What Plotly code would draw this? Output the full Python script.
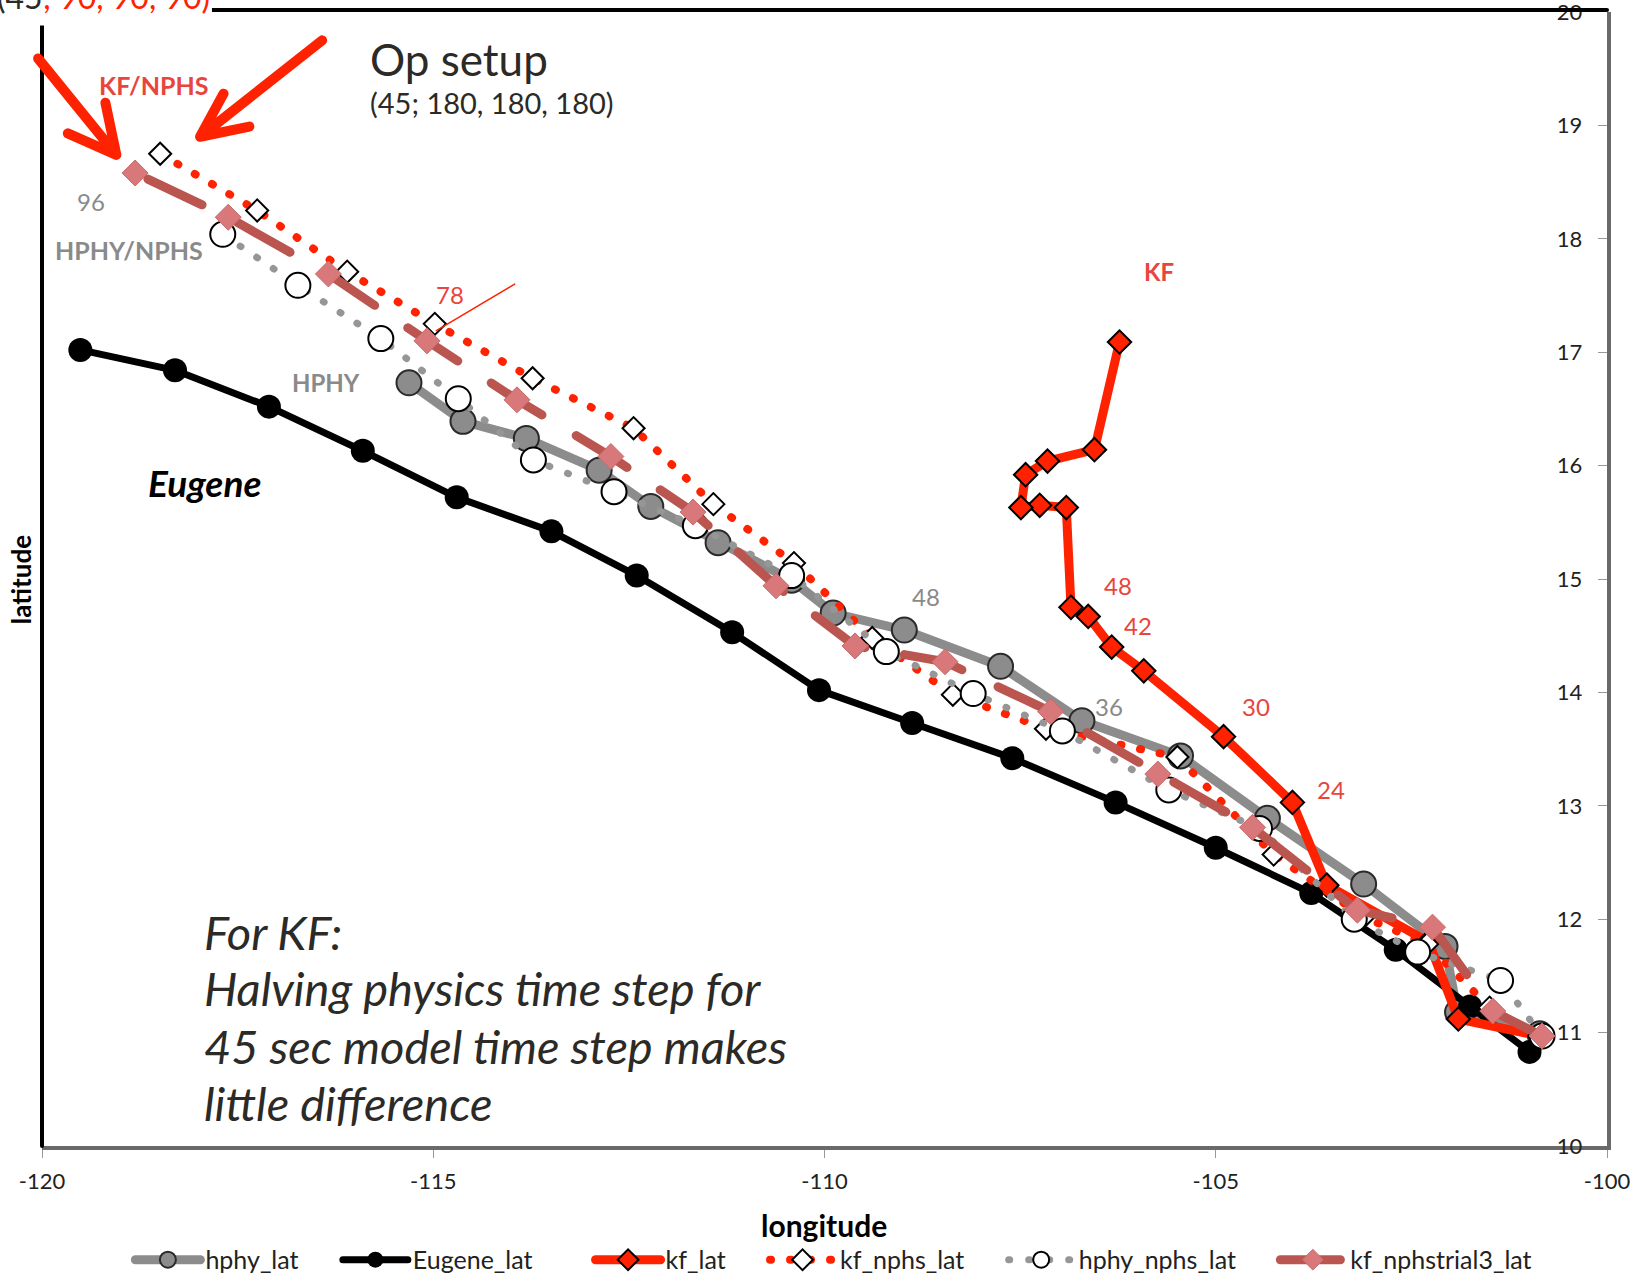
import plotly.graph_objects as go

# ---------------- data (0h -> 96h, every 6 h) ----------------
hphy_lon = [-100.86, -101.91, -102.07, -103.11, -104.34, -105.45, -106.71, -107.75, -108.98,
            -109.89, -110.42, -111.36, -112.22, -112.88, -113.81, -114.62, -115.31]
hphy_lat = [10.99, 11.18, 11.76, 12.31, 12.89, 13.44, 13.75, 14.23, 14.55,
            14.70, 14.99, 15.32, 15.64, 15.96, 16.24, 16.39, 16.73]

eugene_lon = [-100.99, -101.75, -102.70, -103.78, -105.00, -106.28, -107.60, -108.88, -110.07,
              -111.18, -112.40, -113.49, -114.70, -115.90, -117.10, -118.30, -119.51]
eugene_lat = [10.83, 11.23, 11.73, 12.23, 12.63, 13.03, 13.42, 13.73, 14.02,
              14.53, 15.03, 15.42, 15.72, 16.13, 16.52, 16.84, 17.02]

kf_lon = [-100.86, -101.90, -102.28, -103.58, -104.02, -104.90, -105.92, -106.33, -106.63,
          -106.85, -106.91, -107.25, -107.49, -107.43, -107.15, -106.55, -106.23]
kf_lat = [10.97, 11.12, 11.80, 12.30, 13.03, 13.61, 14.19, 14.40, 14.67,
          14.75, 15.63, 15.65, 15.63, 15.92, 16.04, 16.14, 17.09]

kf_nphs_lon = [-100.86, -101.50, -102.30, -103.11, -104.26, -105.49, -107.17, -108.36, -109.39,
               -110.39, -111.42, -112.44, -113.73, -114.98, -116.10, -117.25, -118.49]
kf_nphs_lat = [10.96, 11.22, 11.78, 12.02, 12.57, 13.43, 13.68, 13.98, 14.48,
               15.14, 15.66, 16.33, 16.77, 17.25, 17.71, 18.25, 18.75]

hphy_nphs_lon = [-100.83, -101.36, -102.42, -103.23, -104.44, -105.60, -106.96, -108.10, -109.21,
                 -110.42, -111.65, -112.69, -113.72, -114.68, -115.67, -116.73, -117.69]
hphy_nphs_lat = [10.97, 11.46, 11.71, 12.00, 12.80, 13.14, 13.66, 13.99, 14.36,
                 15.03, 15.47, 15.77, 16.05, 16.59, 17.12, 17.59, 18.04]

trial3_lon = [-100.83, -101.46, -102.23, -103.19, -104.53, -105.74, -107.11, -108.46, -109.61,
              -110.62, -111.68, -112.73, -113.93, -115.08, -116.34, -117.62, -118.81]
trial3_lat = [10.97, 11.19, 11.93, 12.08, 12.81, 13.28, 13.83, 14.27, 14.41,
              14.94, 15.59, 16.08, 16.58, 17.10, 17.69, 18.19, 18.58]

series_names = ["hphy_lat", "Eugene_lat", "kf_lat", "kf_nphs_lat", "hphy_nphs_lat", "kf_nphstrial3_lat"]

x_ticks = [-120, -115, -110, -105, -100]
y_ticks = [10, 11, 12, 13, 14, 15, 16, 17, 18, 19, 20]

FONT = "Lato, 'Open Sans', sans-serif"
RED = "#FF2200"
LRED = "#E8453C"
GRAY = "#8C8C8C"
TGRAY = "#8A8A8A"
DARK = "#2B2A26"

EM = "\u2003"
EN = "\u2002"
TH = "\u2009"
# trailing blank space after legend labels (spacing between legend entries)
legend_pad = [EM + EN + TH, EM + EM + EN + TH, EM + EN + TH, EM + EN + TH, EM + EN + TH, ""]

fig = go.Figure()

fig.add_trace(go.Scatter(x=hphy_lon, y=hphy_lat, name=series_names[0] + legend_pad[0],
                         mode="lines+markers",
                         line=dict(color=GRAY, width=9),
                         marker=dict(symbol="circle", size=25, color=GRAY,
                                     line=dict(color="#2a2a2a", width=2))))
fig.add_trace(go.Scatter(x=eugene_lon, y=eugene_lat, name=series_names[1] + legend_pad[1],
                         mode="lines+markers",
                         line=dict(color="black", width=7),
                         marker=dict(symbol="circle", size=24, color="black")))
fig.add_trace(go.Scatter(x=kf_lon, y=kf_lat, name=series_names[2] + legend_pad[2],
                         mode="lines+markers",
                         line=dict(color=RED, width=9),
                         marker=dict(symbol="diamond", size=18, color=RED,
                                     line=dict(color="black", width=2))))
fig.add_trace(go.Scatter(x=kf_nphs_lon, y=kf_nphs_lat, name=series_names[3] + legend_pad[3],
                         mode="lines+markers",
                         line=dict(color=RED, width=8, dash="1px,19px"),
                         marker=dict(symbol="diamond", size=17, color="white",
                                     line=dict(color="black", width=2))))
fig.add_trace(go.Scatter(x=hphy_nphs_lon, y=hphy_nphs_lat, name=series_names[4] + legend_pad[4],
                         mode="lines+markers",
                         line=dict(color="#969696", width=7, dash="1px,19px"),
                         marker=dict(symbol="circle", size=25, color="white",
                                     line=dict(color="black", width=2))))
fig.add_trace(go.Scatter(x=trial3_lon, y=trial3_lat, name=series_names[5] + legend_pad[5],
                         mode="lines+markers",
                         line=dict(color="#BA5550", width=9, dash="60px,40px"),
                         marker=dict(symbol="diamond", size=20, color="#D9787A",
                                     line=dict(color="#C96A6A", width=1))))

ann = []


def label(x, y, text, color, size, bold=False, italic=False, xanchor="center"):
    t = text
    if bold:
        t = "<b>" + t + "</b>"
    if italic:
        t = "<i>" + t + "</i>"
    ann.append(dict(x=x, y=y, xref="x", yref="y", text=t, showarrow=False,
                    xanchor=xanchor, yanchor="middle",
                    font=dict(family=FONT, size=size, color=color)))


label(-115.83, 19.585, "Op setup", DARK, 44, xanchor="left")
label(-115.83, 19.20, "(45; 180, 180, 180)", DARK, 29, xanchor="left")
label(-118.58, 19.36, "KF/NPHS", LRED, 25, bold=True)
label(-119.37, 18.33, "96", TGRAY, 24)
label(-118.89, 17.90, "HPHY/NPHS", TGRAY, 25, bold=True)
label(-114.78, 17.51, "78", LRED, 24)
label(-116.37, 16.73, "HPHY", TGRAY, 24, bold=True)
label(-117.92, 15.85, "Eugene", "black", 37, bold=True, italic=True)
label(-105.72, 17.71, "KF", LRED, 24, bold=True)
label(-108.70, 14.85, "48", TGRAY, 24)
label(-106.36, 13.88, "36", TGRAY, 24)
label(-106.25, 14.94, "48", LRED, 24)
label(-105.99, 14.59, "42", LRED, 24)
label(-104.48, 13.88, "30", LRED, 24)
label(-103.53, 13.14, "24", LRED, 24)
label(-117.96, 11.89, "For KF:", DARK, 47, italic=True, xanchor="left")
label(-117.96, 11.39, "Halving physics time step for", DARK, 47, italic=True, xanchor="left")
label(-117.96, 10.88, "45 sec model time step makes", DARK, 47, italic=True, xanchor="left")
label(-117.96, 10.38, "little difference", DARK, 47, italic=True, xanchor="left")

# axis titles
ann.append(dict(x=-0.0134, y=0.499, xref="paper", yref="paper", text="<b>latitude</b>",
                showarrow=False, textangle=-90, xanchor="center", yanchor="middle",
                font=dict(family=FONT, size=26, color="black")))
ann.append(dict(x=0.4997, y=-0.0697, xref="paper", yref="paper", text="<b>longitude</b>",
                showarrow=False, xanchor="center", yanchor="middle",
                font=dict(family=FONT, size=30, color="black")))
# clipped header text at top-left
ann.append(dict(x=-0.03, y=0.9947, xref="paper", yref="paper",
                text="(45<span style='color:#FF2200'>; 90, 90, 90)</span>",
                showarrow=False, xanchor="left", yanchor="bottom",
                font=dict(family=FONT, size=32, color=DARK)))

shapes = [
    dict(type="line", xref="paper", yref="paper", x0=0, x1=1, y0=1.0018, y1=1.0018,
         line=dict(color="black", width=4)),
    dict(type="line", xref="paper", yref="paper", x0=0, x1=0, y0=0, y1=1,
         line=dict(color="black", width=4)),
    dict(type="rect", xref="paper", yref="paper", x0=-0.03, x1=0.1086, y0=0.988, y1=1.03,
         fillcolor="white", line=dict(width=0), layer="above"),
    dict(type="line", xref="x", yref="y", x0=-114.96, y0=17.19, x1=-113.96, y1=17.60,
         line=dict(color=RED, width=1.5)),
    # red arrows (paper coordinates so the tail is not clipped)
    dict(type="path", xref="paper", yref="paper",
         path="M -0.0025 0.959 L 0.0475 0.874 M 0.0165 0.893 L 0.0475 0.874 L 0.0405 0.920",
         line=dict(color=RED, width=10)),
    dict(type="path", xref="x", yref="y",
         path="M -116.42 19.75 L -117.98 18.90 M -117.68 19.28 L -117.98 18.90 L -117.35 18.99",
         line=dict(color=RED, width=10)),
]

fig.update_layout(
    template="none",
    width=1639, height=1281,
    margin=dict(l=42, r=32, t=12, b=135, autoexpand=False),
    paper_bgcolor="white", plot_bgcolor="white",
    font=dict(family=FONT, size=22, color="#222"),
    showlegend=True,
    legend=dict(orientation="h", x=0.506, xanchor="center", y=-0.1005, yanchor="middle",
                font=dict(family=FONT, size=25, color="#222"), itemwidth=65,
                bgcolor="rgba(0,0,0,0)", borderwidth=0),
    annotations=ann,
    shapes=shapes,
)
fig.update_xaxes(range=[-120, -100], tickvals=x_ticks, ticktext=[str(v) for v in x_ticks],
                 automargin=False,
                 showgrid=False, zeroline=False, showline=True, linecolor="#6a6a6a", linewidth=4,
                 ticks="outside", ticklen=8, tickcolor="#999", tickwidth=1,
                 ticklabelstandoff=5, ticklabeloverflow="allow",
                 tickfont=dict(family=FONT, size=22, color="#222"))
fig.update_yaxes(range=[10, 20], tickvals=y_ticks, ticktext=[str(v) for v in y_ticks],
                 automargin=False,
                 side="right", showgrid=False, zeroline=False, showline=True,
                 linecolor="#6a6a6a", linewidth=4,
                 ticks="inside", ticklen=9, tickcolor="#999", tickwidth=1,
                 ticklabelposition="inside", ticklabelstandoff=17, ticklabeloverflow="allow",
                 tickfont=dict(family=FONT, size=22, color="#222"))

post = ("var s=document.createElement('style');"
        "s.textContent='.js-line{stroke-linecap:round;stroke-linejoin:round}"
        " .shapelayer path{stroke-linecap:round;stroke-linejoin:round}';"
        "document.head.appendChild(s);")
fig.write_html("out.html", post_script=post)
